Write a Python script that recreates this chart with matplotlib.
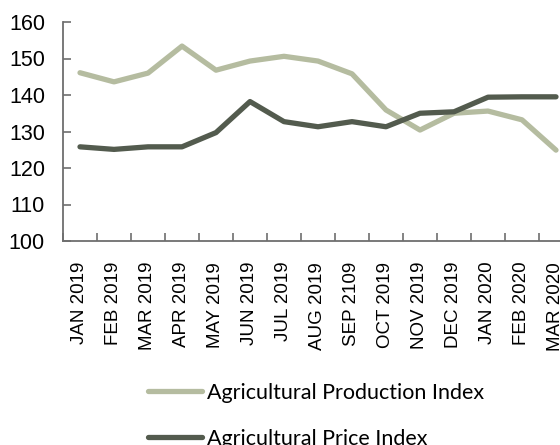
import matplotlib
matplotlib.use("Agg")
import matplotlib.pyplot as plt
import numpy as np

months = ["JAN 2019", "FEB 2019", "MAR 2019", "APR 2019", "MAY 2019", "JUN 2019",
          "JUL 2019", "AUG 2019", "SEP 2109", "OCT 2019", "NOV 2019", "DEC 2019",
          "JAN 2020", "FEB 2020", "MAR 2020"]
production = [146.1, 143.6, 146.0, 153.4, 146.8, 149.3, 150.6, 149.3, 145.8,
              135.9, 130.4, 135.0, 135.6, 133.2, 124.9]
price = [125.8, 125.1, 125.8, 125.8, 129.7, 138.2, 132.7, 131.3, 132.7,
         131.3, 135.0, 135.4, 139.4, 139.5, 139.5]
yticks = [100, 110, 120, 130, 140, 150, 160]

c_prod = "#b5bca0"
c_price = "#535b4e"
spine_c = "#6e6e6e"

fig = plt.figure(figsize=(5.6, 4.45), dpi=100)
ax = fig.add_axes([63/560, 1-241/445, 510/560, 219/445])

x = np.arange(len(months))
ax.plot(x, production, color=c_prod, lw=3.8, solid_capstyle="round",
        solid_joinstyle="round", label="Agricultural Production Index")
ax.plot(x, price, color=c_price, lw=3.8, solid_capstyle="round",
        solid_joinstyle="round", label="Agricultural Price Index")

ax.set_xlim(-0.5, len(months) - 0.5)
ax.set_ylim(100, 160)
ax.set_yticks(yticks)
ax.set_yticklabels([str(v) for v in yticks], fontsize=15.5, family="Liberation Sans")

ax.set_xticks(np.arange(len(months) + 1) - 0.5)
ax.set_xticklabels([])
ax.set_xticks(x, minor=True)
ax.set_xticklabels(months, minor=True, rotation=90, fontsize=13.5,
                   family="Liberation Sans", va="top", ha="center")
ax.tick_params(axis="x", which="minor", length=0, pad=15)
ax.tick_params(axis="x", which="major", direction="in", length=6, color=spine_c, width=1.2)
ax.tick_params(axis="y", which="major", direction="in", length=6, color=spine_c, width=1.2, pad=13)

for s in ["top", "right"]:
    ax.spines[s].set_visible(False)
for s in ["left", "bottom"]:
    ax.spines[s].set_color(spine_c)
    ax.spines[s].set_linewidth(1.3)

leg = fig.legend(loc="upper left", bbox_to_anchor=(148/560, 1-383/445),
                 frameon=False, prop={"family": "Lato", "size": 15.5},
                 handlelength=2.5, handletextpad=0.25, labelspacing=1.2,
                 borderpad=0, borderaxespad=0)

fig.savefig("out.png", dpi=100)
